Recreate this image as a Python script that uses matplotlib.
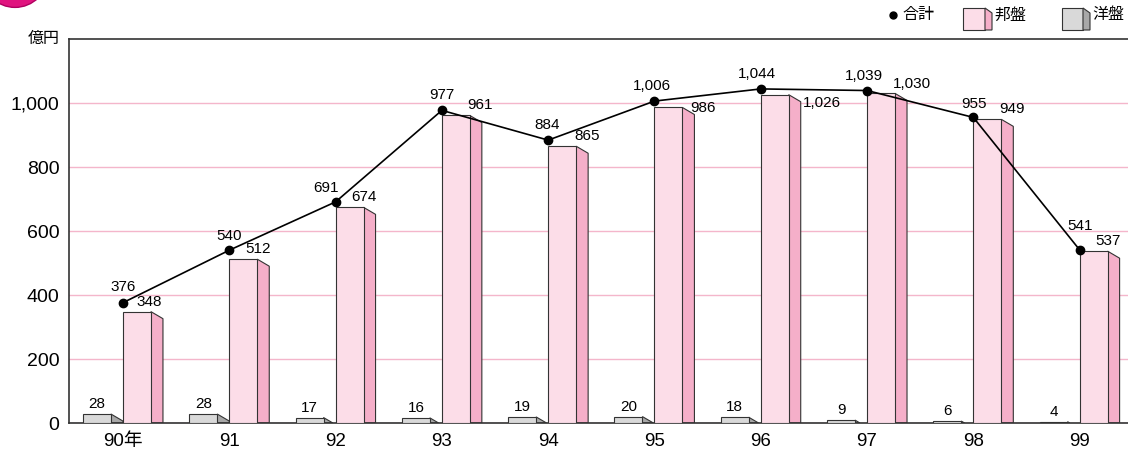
import matplotlib
matplotlib.use("Agg")
import matplotlib.pyplot as plt
from matplotlib.patches import Polygon, Circle, Rectangle
from matplotlib.ticker import FuncFormatter

plt.rcParams['font.family'] = ['Liberation Sans', 'Noto Sans CJK JP']

years = ['90年', '91', '92', '93', '94', '95', '96', '97', '98', '99']
domestic = [348, 512, 674, 961, 865, 986, 1026, 1030, 949, 537]   # 邦盤
foreign = [28, 28, 17, 16, 19, 20, 18, 9, 6, 4]                   # 洋盤
total = [376, 540, 691, 977, 884, 1006, 1044, 1039, 955, 541]      # 合計
yticks = [0, 200, 400, 600, 800, 1000]

# label nudges in pixels (dx, dy), placed by hand like the original
dom_nudge = [(26, 3), (29, 3), (28, 3), (38, 3), (39, 3), (49, -8), (61, -15), (45, 2), (39, 3), (28, 3)]
tot_nudge = [(0, 9), (0, 7), (-10, 7), (0, 8), (-1, 8), (-3, 8), (-4, 8), (-3, 8), (1, 6), (0, 17)]

PINK = '#fcdde8'
PINK_SIDE = '#f5afc9'
GREY = '#d9d9d9'
GREY_SIDE = '#a8a8a8'
EDGE = '#333333'

W = 0.263    # bar front width
DX = 0.113   # side face depth
DY = 22      # side face drop (in value units)

fig = plt.figure(figsize=(11.28, 4.54), dpi=100)
ax = fig.add_axes([69 / 1128, 31 / 454, 1 - 69 / 1128, (423 - 39) / 454])


def side_face(xr, v, color):
    if v >= DY:
        pts = [(xr, 0), (xr, v), (xr + DX, v - DY), (xr + DX, 0)]
    else:
        pts = [(xr, 0), (xr, v), (xr + DX * v / DY, 0)]
    ax.add_patch(Polygon(pts, closed=True, facecolor=color, edgecolor=EDGE, lw=0.8, zorder=2))


x = list(range(len(years)))
ax.bar([i - W - DX for i in x], foreign, width=W, align='edge', color=GREY, edgecolor=EDGE, lw=0.8, zorder=3)
ax.bar(x, domestic, width=W, align='edge', color=PINK, edgecolor=EDGE, lw=0.8, zorder=3)
for i in x:
    side_face(i - DX, foreign[i], GREY_SIDE)
    side_face(i + W, domestic[i], PINK_SIDE)

ax.plot(x, total, color='black', lw=1.2, marker='o', ms=6, zorder=5)

for i in x:
    ax.annotate(str(foreign[i]), (i - W / 2 - DX, foreign[i]), xytext=(0, 3), textcoords='offset pixels',
                ha='center', va='bottom', fontsize=11, zorder=6)
    dx, dy = dom_nudge[i]
    ax.annotate(f'{domestic[i]:,}', (i, domestic[i]), xytext=(dx, dy), textcoords='offset pixels',
                ha='center', va='bottom', fontsize=11, zorder=6)
    dx, dy = tot_nudge[i]
    ax.annotate(f'{total[i]:,}', (i, total[i]), xytext=(dx, dy), textcoords='offset pixels',
                ha='center', va='bottom', fontsize=11, zorder=6)

ax.set_xlim(-0.508, 9.455)
ax.set_ylim(0, 1200)
ax.set_yticks(yticks)
ax.yaxis.set_major_formatter(FuncFormatter(lambda v, p: f'{v:,.0f}'))
ax.set_xticks(x)
ax.set_xticklabels(years)
ax.tick_params(axis='both', length=0, labelsize=14)
ax.tick_params(axis='x', labelsize=13.5, pad=7)
ax.tick_params(axis='y', pad=7)
ax.yaxis.grid(True, color='#f4b6cb', lw=1)
ax.set_axisbelow(True)
for s in ['left', 'top', 'bottom']:
    ax.spines[s].set_color(EDGE)
    ax.spines[s].set_linewidth(1.2)
ax.spines['right'].set_visible(False)

# overlay in pixel coords for the legend, unit label and the corner badge
ov = fig.add_axes([0, 0, 1, 1])
ov.set_xlim(0, 1128)
ov.set_ylim(454, 0)
ov.axis('off')

ov.add_patch(Circle((15, -25.6), 33, facecolor='#e0147f', edgecolor='#b00060', lw=1, clip_on=False))
ov.text(60, 38, '億円', ha='right', va='center', fontsize=11.5)

ov.plot([893], [15], 'o', color='black', ms=5)
ov.text(902, 15, '合計', ha='left', va='center', fontsize=11.5)
ov.add_patch(Rectangle((963, 8), 22, 22, facecolor=PINK, edgecolor=EDGE, lw=0.8))
ov.add_patch(Polygon([(985, 8), (992, 13), (992, 30), (985, 30)], facecolor=PINK_SIDE, edgecolor=EDGE, lw=0.8))
ov.text(994, 15, '邦盤', ha='left', va='center', fontsize=11.5)
ov.add_patch(Rectangle((1062, 8), 21, 22, facecolor=GREY, edgecolor=EDGE, lw=0.8))
ov.add_patch(Polygon([(1083, 8), (1090, 13), (1090, 30), (1083, 30)], facecolor=GREY_SIDE, edgecolor=EDGE, lw=0.8))
ov.text(1092, 15, '洋盤', ha='left', va='center', fontsize=11.5)

fig.savefig('out.png', dpi=100)
